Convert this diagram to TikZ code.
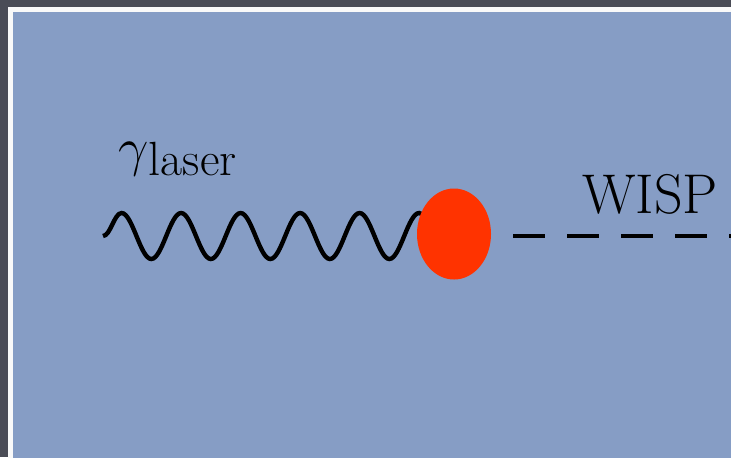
\documentclass[tikz,border=0pt]{standalone}
\usepackage{fix-cm}
\usepackage{tikz}
\usetikzlibrary{shapes.geometric,decorations.pathmorphing,positioning}
\definecolor{slate}{RGB}{74,76,86}
\definecolor{panelblue}{RGB}{134,157,197}
\definecolor{blobred}{RGB}{255,51,0}

\begin{document}
\begin{tikzpicture}[x=0.5pt, y=-0.5pt,
      blob/.style={ellipse, fill=blobred, minimum width=37pt, minimum height=45.5pt, inner sep=0pt},
      photon/.style={line width=2.2pt, decorate,
                     decoration={snake, segment length=29.75pt, amplitude=11.5pt}},
      wispline/.style={line width=2pt, dash pattern=on 16pt off 11pt, dash phase=24.5pt},
      lbl/.style={inner sep=0pt, anchor=base west}
    ]
      \useasboundingbox (0,0) rectangle (731,457);
      % frame and panel
      \fill[slate] (0,0) rectangle (731,457);
      \fill[white!95!gray] (8,7) rectangle (740,470);
      \fill[panelblue] (13,12) rectangle (740,470);

      \coordinate (laserin) at (103,236);
      \coordinate (vertex) at (454,236);
      \coordinate (wispout) at (745,236);

      \draw[photon] (laserin) -- (vertex);
      \draw[wispline] (vertex) -- (wispout);
      \node[blob] (dot) at (454,234) {};

      \node[lbl] (gammalaser) at (118,165)
        {{\fontsize{27pt}{30pt}\selectfont$\gamma$}\raisebox{-5pt}{\fontsize{24pt}{27pt}\selectfont laser}};
      \node[lbl] (wisp) at (582,213) {\fontsize{28pt}{30pt}\selectfont WISP};
    \end{tikzpicture}
\end{document}
